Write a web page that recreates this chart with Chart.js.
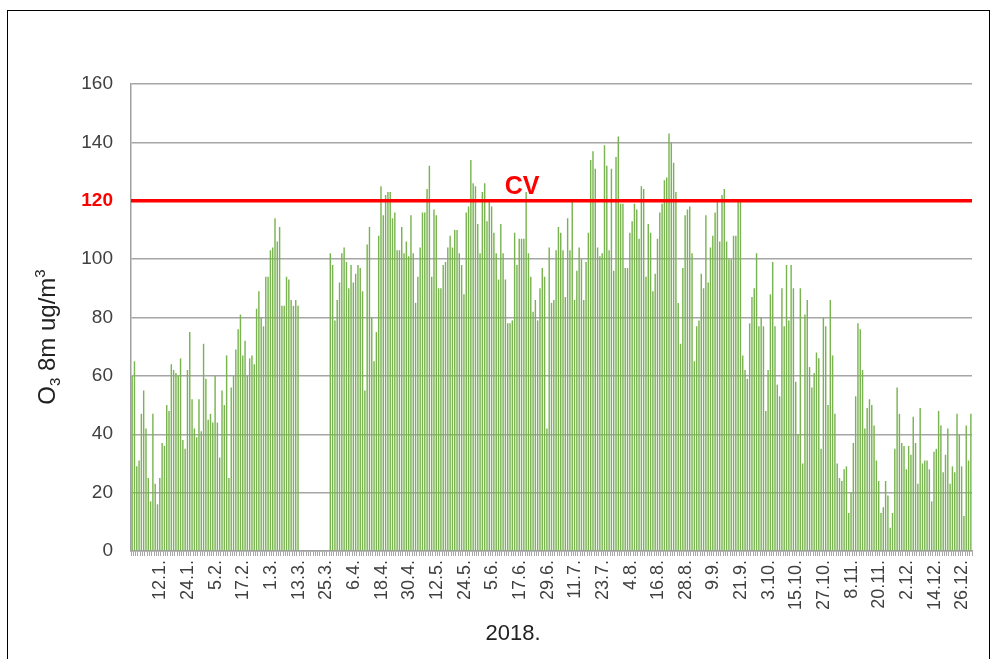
<!DOCTYPE html>
<html>
<head>
<meta charset="utf-8">
<script src="https://cdn.jsdelivr.net/npm/chart.js@4.4.1/dist/chart.umd.min.js"></script>
<style>
  html, body { margin: 0; padding: 0; background: #fff; overflow: hidden; }
  #frame { position: absolute; left: 7px; top: 10px; width: 983px; height: 700px; border: 1px solid #000; box-sizing: border-box; }
  #wrap { position: absolute; left: 0; top: 0; width: 1004px; height: 659px; }
</style>
</head>
<body>
<div id="frame"></div>
<div id="wrap"><canvas id="chart"></canvas></div>
<script>
// Daily O3 8h max, 2018 (ug/m3) in day order
const o3JanFeb = [60, 65, 29, 31, 47, 55, 42, 25, 17, 47, 23, 16, 25, 37, 36, 50, 48, 64, 62, 61,
                  60, 66, 38, 35, 62, 75, 52, 42, 39, 52, 41, 71, 59, 45, 47, 44, 60, 44, 32];        // days 1-39
const o3FebMar = [55, 50, 67, 25, 56, 60, 69, 76, 81, 67, 72, 60, 66, 67, 64, 83, 89, 80, 77, 94,
                  94, 103, 104, 114, 106, 111, 84, 84, 94, 93, 86, 84, 86, 84];                         // days 40-73
const o3Missing = [null, null, null, null, null, null, null, null, null, null, null, null, null];     // days 74-86
const o3MarApr = [102, 98, 79, 86, 92, 102, 104, 99, 90, 98, 92, 95, 98, 97, 89, 55, 105, 111, 80, 65,
                  75, 108, 125, 115, 122, 123, 123, 114, 116, 103, 103, 111, 102, 106, 101];            // days 87-121
const o3MayJun = [115, 102, 85, 94, 104, 116, 116, 124, 132, 94, 117, 115, 90, 90, 98, 99, 104, 108, 104, 110,
                  110, 102, 98, 88, 116, 118, 134, 126, 125, 112, 102, 123, 126, 113, 120, 118, 109, 102, 93, 112, 102]; // 122-162
const o3JunJul = [93, 78, 78, 79, 109, 98, 107, 107, 107, 123, 102, 94, 82, 86, 79, 90, 97, 94, 42, 104,
                  85, 86, 103, 111, 109, 103, 87, 114, 103, 120, 86, 96, 104, 100, 86, 99, 109, 134, 137, 131, 104, 101]; // 163-204
const o3JulSep = [102, 139, 132, 103, 131, 96, 135, 142, 119, 119, 97, 97, 109, 113, 119, 117, 107, 125, 124, 94,
                  112, 109, 89, 95, 107, 116, 119, 127, 128, 143, 140, 133, 123, 85, 71, 97, 115, 117, 118, 102, 65]; // 205-245
const o3SepOct = [77, 79, 95, 90, 115, 92, 104, 108, 116, 120, 106, 122, 124, 106, 100, 100, 108, 108, 120, 120,
                  67, 62, 59, 78, 87, 90, 102, 77, 80, 77, 48, 62, 88, 99, 77, 57, 53, 90, 77, 98, 79];  // 246-286
const o3OctNov = [98, 90, 58, 40, 90, 30, 81, 86, 63, 56, 61, 68, 66, 35, 80, 77, 50, 86, 67, 47,
                  30, 25, 24, 28, 29, 13, 20, 37, 53, 78, 76, 62, 42, 49, 52, 50, 43, 31, 24, 13, 15];   // 287-327
const o3NovDec = [24, 19, 8, 13, 35, 56, 47, 37, 36, 28, 36, 33, 46, 37, 23, 49, 30, 31, 31, 28,
                  17, 34, 35, 48, 43, 27, 33, 42, 23, 29, 27, 47, 40, 29, 12, 43, 31, 47];              // 328-365

// x labels shown every 12th day, starting on 12 Jan
const tickLabels = ['12.1.', '24.1.', '5.2.', '17.2.', '1.3.', '13.3.', '25.3.', '6.4.', '18.4.', '30.4.',
                    '12.5.', '24.5.', '5.6.', '17.6.', '29.6.', '11.7.', '23.7.', '4.8.', '16.8.', '28.8.',
                    '9.9.', '21.9.', '3.10.', '15.10.', '27.10.', '8.11.', '20.11.', '2.12.', '14.12.', '26.12.'];
const yTicks = [0, 20, 40, 60, 80, 100, 120, 140, 160];
const limitValue = 120;   // CV
const limitLabel = 'CV';
const xTitle = '2018.';

const o3Values = [].concat(o3JanFeb, o3FebMar, o3Missing, o3MarApr, o3MayJun, o3JunJul,
                           o3JulSep, o3SepOct, o3OctNov, o3NovDec);

// one category per day of 2018
const days = [];
for (let d = new Date(2018, 0, 1); d.getFullYear() === 2018; d.setDate(d.getDate() + 1)) {
  days.push(d.getDate() + '.' + (d.getMonth() + 1) + '.');
}

const FONT = '"Liberation Sans", Arial, sans-serif';
const TEXT = '#404040';

function labelFor(i) {
  if (i < 11 || (i - 11) % 12 !== 0) return '';
  return tickLabels[(i - 11) / 12] || '';
}

const isLimit = c => !!(c && c.tick && c.tick.value === limitValue);

// limit line, CV label and axis titles (sub/superscript)
const overlay = {
  id: 'overlay',
  afterDatasetsDraw(chart) {
    const { ctx, chartArea, scales } = chart;
    const yv = scales.y.getPixelForValue(limitValue);
    ctx.save();
    ctx.strokeStyle = '#ff0000';
    ctx.lineWidth = 3.3;
    ctx.beginPath();
    ctx.moveTo(chartArea.left, yv);
    ctx.lineTo(chartArea.right, yv);
    ctx.stroke();

    ctx.fillStyle = '#ff0000';
    ctx.font = 'bold 25px ' + FONT;
    ctx.textAlign = 'center';
    ctx.textBaseline = 'alphabetic';
    ctx.fillText(limitLabel, 522, yv - 7);

    // x title
    ctx.fillStyle = '#222';
    ctx.font = '22px ' + FONT;
    ctx.fillText(xTitle, 513, 640);

    // y title: O3 8m ug/m3
    const parts = [
      { t: 'O', size: 24, dy: 0 },
      { t: '3', size: 15, dy: 5 },
      { t: ' 8m ug/m', size: 24, dy: 0 },
      { t: '3', size: 15, dy: -10 }
    ];
    let total = 0;
    parts.forEach(p => { ctx.font = p.size + 'px ' + FONT; p.w = ctx.measureText(p.t).width; total += p.w; });
    ctx.translate(55, 337);
    ctx.rotate(-Math.PI / 2);
    ctx.textAlign = 'left';
    let x = -total / 2;
    parts.forEach(p => {
      ctx.font = p.size + 'px ' + FONT;
      ctx.fillText(p.t, x, p.dy);
      x += p.w;
    });
    ctx.restore();
  }
};

new Chart(document.getElementById('chart'), {
  type: 'bar',
  data: {
    labels: days,
    datasets: [{
      data: o3Values,
      backgroundColor: '#79b451',
      barPercentage: 0.62,
      categoryPercentage: 1
    }]
  },
  options: {
    responsive: true,
    maintainAspectRatio: false,
    animation: false,
    layout: { padding: { left: 0, right: 32, top: 84, bottom: 0 } },
    plugins: { legend: { display: false }, tooltip: { enabled: false } },
    scales: {
      x: {
        grid: { display: true, drawOnChartArea: false, drawTicks: true, tickLength: 5, color: '#a6a6a6' },
        border: { color: '#a0a0a0', width: 1.5 },
        ticks: {
          autoSkip: false, maxRotation: 90, minRotation: 90, padding: 4, labelOffset: 3,
          color: TEXT, font: { family: FONT, size: 18 },
          callback: (v, i) => labelFor(i)
        },
        afterFit: s => { s.height = 108; }
      },
      y: {
        min: yTicks[0], max: yTicks[yTicks.length - 1],
        ticks: {
          stepSize: yTicks[1] - yTicks[0],
          padding: 18,
          color: c => isLimit(c) ? '#ff0000' : TEXT,
          font: c => ({ family: FONT, size: 19, weight: isLimit(c) ? 'bold' : 'normal' })
        },
        grid: { color: '#a6a6a6', lineWidth: 1.5, drawTicks: false },
        border: { color: '#a0a0a0', width: 1.5 },
        afterFit: s => { s.width = 131; }
      }
    }
  },
  plugins: [overlay]
});
</script>
</body>
</html>
